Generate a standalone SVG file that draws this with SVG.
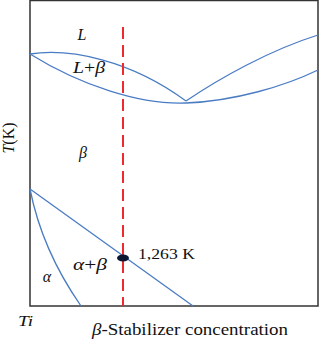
<svg xmlns="http://www.w3.org/2000/svg" width="320" height="341" viewBox="0 0 320 341">
<style>
.frame{fill:none;stroke:#333;stroke-width:1.5}
.phase{fill:none;stroke:#4a7cc4;stroke-width:1.3}
.dash{fill:none;stroke:#ee2a2e;stroke-width:2;stroke-dasharray:12 6}
text{font-family:"Liberation Serif","Times New Roman",serif;fill:#111}
.it{font-style:italic}
</style>
<rect width="320" height="341" fill="#fff"/>
<g id="frame"><rect class="frame" x="30" y="0.5" width="288" height="305.5"/></g>
<g id="connectors">
<path id="liquidus-left" class="phase" d="M30,54 C70,48 130,60 186,101"/>
<path id="liquidus-right" class="phase" d="M186,101 C220,78 270,50 318,35"/>
<path id="solidus" class="phase" d="M30,54 C80,85 140,105 186,103 C235,101 285,86 318,70"/>
<path id="beta-transus" class="phase" d="M30,189 L193,306"/>
<path id="alpha-boundary" class="phase" d="M30,189 Q42,250 81,306"/>
<line id="composition" class="dash" x1="123" y1="27" x2="123" y2="306"/>
</g>
<g id="point-1263"><ellipse cx="123" cy="258" rx="6" ry="3.5" fill="#0b1633"/><text x="138" y="259" font-size="15" textLength="57" lengthAdjust="spacingAndGlyphs" font-family="Liberation Serif, serif">1,263 K</text></g>
<g id="label-L"><text class="it" x="82" y="40" font-size="16" text-anchor="middle" font-family="Liberation Serif, serif">L</text></g>
<g id="label-Lbeta"><text x="73" y="73" font-size="16" textLength="32" lengthAdjust="spacingAndGlyphs" font-family="Liberation Serif, serif"><tspan class="it">L</tspan>+<tspan class="it">β</tspan></text></g>
<g id="label-beta"><text class="it" x="83" y="158" font-size="16" text-anchor="middle" font-family="Liberation Serif, serif">β</text></g>
<g id="label-alpha"><text class="it" x="47" y="282" font-size="16" text-anchor="middle" font-family="Liberation Serif, serif">α</text></g>
<g id="label-alphabeta"><text x="73" y="270" font-size="16" textLength="34" lengthAdjust="spacingAndGlyphs" font-family="Liberation Serif, serif"><tspan class="it">α</tspan>+<tspan class="it">β</tspan></text></g>
<g id="axis-y"><text x="0" y="0" font-size="16" text-anchor="middle" transform="translate(14,138) rotate(-90)" font-family="Liberation Serif, serif"><tspan class="it">T</tspan>(K)</text></g>
<g id="axis-ti"><text class="it" x="18" y="326" font-size="14" textLength="15" lengthAdjust="spacingAndGlyphs" font-family="Liberation Serif, serif">Ti</text></g>
<g id="axis-x"><text x="92" y="335" font-size="16" textLength="196" lengthAdjust="spacingAndGlyphs" font-family="Liberation Serif, serif"><tspan class="it">β</tspan>-Stabilizer concentration</text></g>
</svg>
